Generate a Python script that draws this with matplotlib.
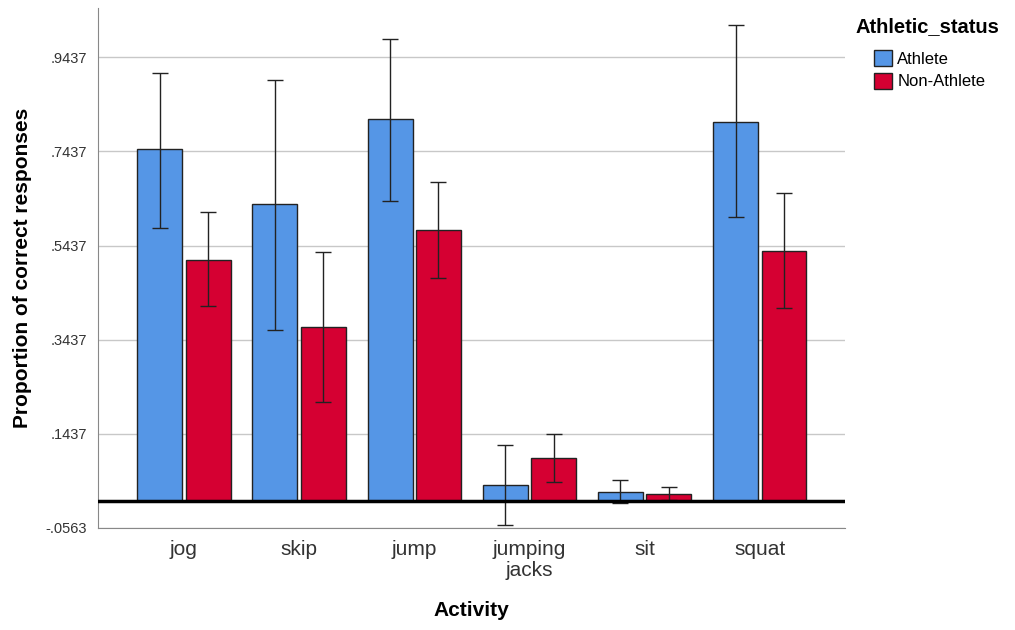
import numpy as np
import matplotlib.pyplot as plt
from matplotlib.patches import Patch

plt.rcParams['font.family'] = ['Liberation Sans', 'DejaVu Sans']

activities = ["jog", "skip", "jump", "jumping\njacks", "sit", "squat"]
athlete = [0.748, 0.631, 0.812, 0.035, 0.021, 0.807]
athlete_lo = [0.582, 0.365, 0.638, -0.050, -0.003, 0.604]
athlete_hi = [0.910, 0.895, 0.982, 0.120, 0.046, 1.012]
non_athlete = [0.514, 0.371, 0.576, 0.093, 0.016, 0.533]
non_lo = [0.416, 0.212, 0.474, 0.042, 0.003, 0.412]
non_hi = [0.614, 0.529, 0.678, 0.144, 0.031, 0.656]
yticks = [-0.0563, 0.1437, 0.3437, 0.5437, 0.7437, 0.9437]
ytick_labels = ["-.0563", ".1437", ".3437", ".5437", ".7437", ".9437"]

blue = "#5596e6"
red = "#d50032"

fig = plt.figure(figsize=(10.15, 6.3), dpi=100)
ax = fig.add_axes([0.0966, 0.162, 0.736, 0.825])

x = np.arange(len(activities))
w = 0.39
off = 0.21

ath = np.array(athlete)
non = np.array(non_athlete)
ax.bar(x - off, ath, w, color=blue, edgecolor="#222222", linewidth=1, zorder=3)
ax.bar(x + off, non, w, color=red, edgecolor="#222222", linewidth=1, zorder=3)

err_a = [ath - np.array(athlete_lo), np.array(athlete_hi) - ath]
err_n = [non - np.array(non_lo), np.array(non_hi) - non]
ax.errorbar(x - off, ath, yerr=err_a, fmt="none", ecolor="#222222", elinewidth=1, capsize=6, capthick=1, zorder=4)
ax.errorbar(x + off, non, yerr=err_n, fmt="none", ecolor="#222222", elinewidth=1, capsize=6, capthick=1, zorder=4)

ax.axhline(0, color="black", linewidth=2.5, zorder=5)

ax.set_xlim(-0.745, 5.74)
ax.set_ylim(-0.0563, 1.048)
ax.set_yticks(yticks)
ax.set_yticklabels(ytick_labels, fontsize=10.5, color="#333333")
ax.set_xticks(x)
ax.set_xticklabels(activities, fontsize=15, color="#333333", linespacing=1.1)
ax.tick_params(axis="both", length=0, pad=8)
ax.tick_params(axis="x", pad=9)
ax.yaxis.grid(True, color="#c8c8c8", linewidth=1, zorder=0)
ax.set_axisbelow(True)

for s in ["top", "right"]:
    ax.spines[s].set_visible(False)
ax.spines["left"].set_color("#888888")
ax.spines["bottom"].set_color("#888888")

ax.set_ylabel("Proportion of correct responses", fontsize=15, fontweight="bold")
ax.yaxis.set_label_coords(-0.089, 0.5)
ax.set_xlabel("Activity", fontsize=15, fontweight="bold")
ax.xaxis.set_label_coords(0.5, -0.14)

fig.text(855 / 1015, 1 - 27 / 630, "Athletic_status", fontsize=14.5, fontweight="bold",
         ha="left", va="center")
handles = [Patch(facecolor=blue, edgecolor="#222222", label="Athlete"),
           Patch(facecolor=red, edgecolor="#222222", label="Non-Athlete")]
fig.legend(handles=handles, loc="upper left",
           bbox_to_anchor=(874 / 1015, 1 - 50 / 630), frameon=False, fontsize=12,
           handlelength=1.1, handleheight=1.1, handletextpad=0.3,
           labelspacing=0.35, borderaxespad=0, borderpad=0)

fig.savefig("out.png", dpi=100)
